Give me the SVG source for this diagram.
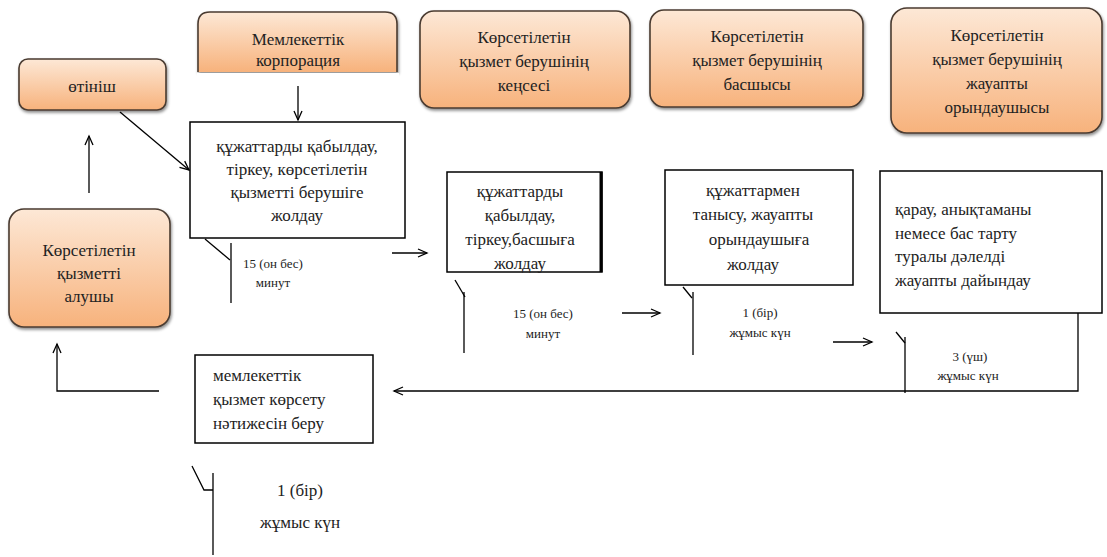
<svg xmlns="http://www.w3.org/2000/svg" width="1107" height="557" viewBox="0 0 1107 557">
<defs>
<linearGradient id="og" x1="0" y1="0" x2="0" y2="1">
<stop offset="0" stop-color="#fde8d6"/>
<stop offset="1" stop-color="#f7b27c"/>
</linearGradient>
<filter id="sh" x="-10%" y="-10%" width="130%" height="140%">
<feDropShadow dx="1" dy="2" stdDeviation="1.5" flood-color="#000" flood-opacity="0.45"/>
</filter>
</defs>
<style>
.o{stroke:#4a3b30;stroke-width:1.6}
.b{fill:#fff;stroke:#000;stroke-width:1.5}
.t{font-size:17px;fill:#222}
.c{text-anchor:middle}
.s{font-size:13px;fill:#222;text-anchor:middle}
.l{fill:none;stroke:#000;stroke-width:1.3}
</style>
<rect width="1107" height="557" fill="#fff"/>
<g font-family="Liberation Serif">
<g id="n-otinish">
<rect class="o" fill="url(#og)" filter="url(#sh)" x="19" y="59" width="147" height="51" rx="9"/>
<text class="t c" x="92" y="92">өтініш</text>
</g>
<g id="n-corp">
<path class="o" fill="url(#og)" filter="url(#sh)" d="M198,72 L198,24 Q198,12 210,12 L385,12 Q397,12 397,24 L397,72"/>
<rect x="197" y="73" width="202" height="6" fill="#fff"/>
<text class="t c" x="298" y="45">Мемлекеттік</text>
<text class="t c" x="298" y="66">корпорация</text>
</g>
<g id="n-kense">
<rect class="o" fill="url(#og)" filter="url(#sh)" x="420" y="11" width="210" height="97" rx="14"/>
<text class="t c" x="524" y="43">Көрсетілетін</text>
<text class="t c" x="524" y="67">қызмет берушінің</text>
<text class="t c" x="524" y="91">кеңсесі</text>
</g>
<g id="n-basshy">
<rect class="o" fill="url(#og)" filter="url(#sh)" x="650" y="10" width="213" height="97" rx="14"/>
<text class="t c" x="757" y="42">Көрсетілетін</text>
<text class="t c" x="757" y="66">қызмет берушінің</text>
<text class="t c" x="757" y="90">басшысы</text>
</g>
<g id="n-oryndau">
<rect class="o" fill="url(#og)" filter="url(#sh)" x="891" y="8" width="211" height="125" rx="16"/>
<text class="t c" x="997" y="41">Көрсетілетін</text>
<text class="t c" x="997" y="65">қызмет берушінің</text>
<text class="t c" x="997" y="89">жауапты</text>
<text class="t c" x="997" y="113">орындаушысы</text>
</g>
<g id="n-alushy">
<rect class="o" fill="url(#og)" filter="url(#sh)" x="9" y="209" width="161" height="118" rx="15"/>
<text class="t c" x="89" y="256">Көрсетілетін</text>
<text class="t c" x="89" y="279">қызметті</text>
<text class="t c" x="89" y="302">алушы</text>
</g>

<g id="n-box1">
<rect class="b" x="190" y="122" width="215" height="116"/>
<text class="t c" x="297" y="152">құжаттарды қабылдау,</text>
<text class="t c" x="297" y="175">тіркеу, көрсетілетін</text>
<text class="t c" x="297" y="198">қызметті берушіге</text>
<text class="t c" x="297" y="221">жолдау</text>
</g>
<g id="n-box2">
<rect class="b" x="447" y="172" width="155" height="100"/>
<line x1="601" y1="172" x2="601" y2="272" stroke="#000" stroke-width="3"/>
<text class="t c" x="520" y="197">құжаттарды</text>
<text class="t c" x="520" y="221">қабылдау,</text>
<text class="t c" x="520" y="245">тіркеу,басшыға</text>
<text class="t c" x="520" y="269">жолдау</text>
</g>
<g id="n-box3">
<rect class="b" x="665" y="170" width="188" height="115"/>
<text class="t c" x="753" y="196">құжаттармен</text>
<text class="t c" x="753" y="220">танысу, жауапты</text>
<text class="t c" x="759" y="245">орындаушыға</text>
<text class="t c" x="753" y="270">жолдау</text>
</g>
<g id="n-box4">
<rect class="b" x="880" y="171" width="222" height="142"/>
<text class="t" x="895" y="215">қарау, анықтаманы</text>
<text class="t" x="895" y="239">немесе бас тарту</text>
<text class="t" x="895" y="262">туралы дәлелді</text>
<text class="t" x="895" y="286">жауапты дайындау</text>
</g>
<g id="n-box5">
<rect class="b" x="195" y="355" width="178" height="88"/>
<text class="t" x="213" y="381">мемлекеттік</text>
<text class="t" x="213" y="405">қызмет көрсету</text>
<text class="t" x="213" y="429">нәтижесін  беру</text>
</g>

<g id="connectors">
<line class="l" x1="120" y1="112" x2="189" y2="170"/>
<path class="l" d="M179.5,167.3 L189,170 L184.7,161.1"/>
<line class="l" x1="298" y1="86" x2="298" y2="120"/>
<path class="l" d="M294,111 L298,120 L302,111"/>
<line class="l" x1="89" y1="193" x2="89" y2="136"/>
<path class="l" d="M85,145 L89,136 L93,145"/>
<polyline class="l" points="159,391 57,391 57,344"/>
<path class="l" d="M53,353 L57,344 L61,353"/>
<polyline class="l" points="1078,313 1078,391 394,391"/>
<path class="l" d="M403,387 L394,391 L403,395"/>
<line class="l" x1="392" y1="253" x2="427" y2="253"/>
<path class="l" d="M418,249 L427,253 L418,257"/>
<line class="l" x1="622" y1="313" x2="660" y2="313"/>
<path class="l" d="M651,309 L660,313 L651,317"/>
<line class="l" x1="833" y1="342" x2="872" y2="342"/>
<path class="l" d="M863,338 L872,342 L863,346"/>
<polyline class="l" points="205,239 230,260"/>
<line class="l" x1="231" y1="243" x2="231" y2="303"/>
<polyline class="l" points="455,280 465,297"/>
<line class="l" x1="464" y1="292" x2="464" y2="353"/>
<polyline class="l" points="683,287 692,298"/>
<line class="l" x1="693" y1="292" x2="693" y2="355"/>
<polyline class="l" points="896,332 905,343"/>
<line class="l" x1="905" y1="337" x2="905" y2="393"/>
<polyline class="l" points="192,466 204,490 213,490"/>
<line class="l" x1="213" y1="473" x2="213" y2="555"/>
</g>

<g id="labels">
<text class="s" x="273" y="268">15 (он бес)</text>
<text class="s" x="273" y="287">минут</text>
<text class="s" x="543" y="318">15 (он бес)</text>
<text class="s" x="543" y="338">минут</text>
<text class="s" x="760" y="317">1 (бір)</text>
<text class="s" x="760" y="337">жұмыс күн</text>
<text class="s" x="970" y="361">3 (үш)</text>
<text class="s" x="968" y="380">жұмыс күн</text>
<text class="t c" x="300" y="496">1 (бір)</text>
<text class="t c" x="300" y="528">жұмыс күн</text>
</g>
</g>
</svg>
